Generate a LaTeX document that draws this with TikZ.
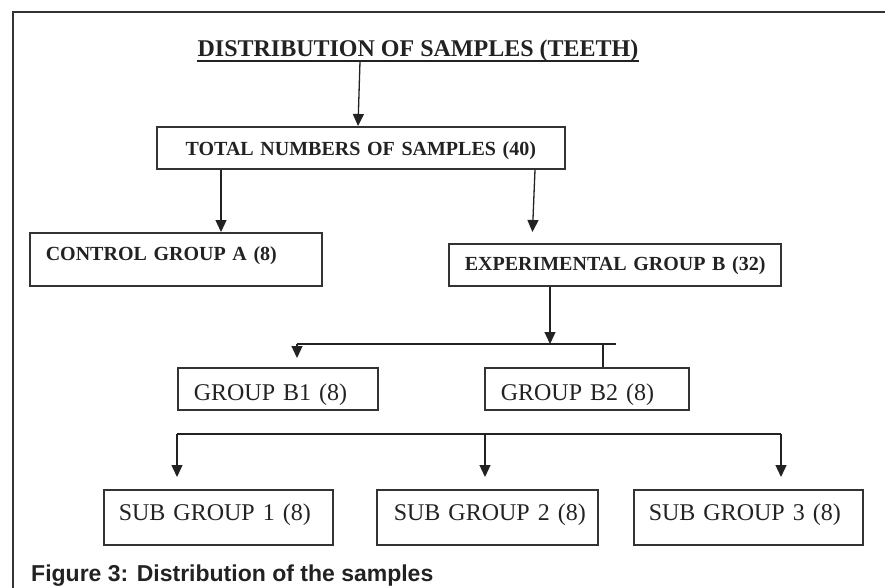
\documentclass[tikz,border=0pt]{standalone}
\usepackage{fontspec}
\setmainfont{Liberation Serif}
\newfontfamily\capfont{Liberation Sans}
\usetikzlibrary{arrows.meta,calc}
\definecolor{ink}{HTML}{222222}
\definecolor{edge}{HTML}{333333}
\begin{document}
\begin{tikzpicture}[x=1pt,y=1pt,
  boxbase/.style={draw=edge, line width=1.6pt, inner ysep=0pt, anchor=north west, align=left, text=ink},
  boldtxt/.style={font=\bfseries\fontsize{20}{24}\selectfont},
  plaintxt/.style={font=\fontsize{24}{28}\selectfont},
  arr/.style={draw=ink, line width=1.3pt, -{Triangle[width=11pt,length=12pt]}},
  conn/.style={draw=ink, line width=1.3pt}]
\useasboundingbox (0,0) rectangle (885,-588);
% frame
\draw[draw=edge, line width=1.5pt] (885,-12) -- (13,-12) -- (13,-588);
% title
\node[font=\bfseries\fontsize{24}{28}\selectfont, inner sep=0pt, text depth=4pt, anchor=base, text=ink] (title) at (418,-57) {DISTRIBUTION OF SAMPLES (TEETH)};
\draw[conn, line width=1.5pt] (title.south west) -- (title.south east);
% boxes
\node[boxbase, boldtxt, minimum width=408pt, minimum height=42pt, inner xsep=14pt, text width=380pt, align=center, text height=29pt, text depth=13pt] (total) at (156,-126) {TOTAL NUMBERS OF SAMPLES (40)};
\node[boxbase, boldtxt, minimum width=292pt, minimum height=53pt, inner xsep=16pt, text width=260pt, text height=28pt, text depth=25pt] (ctrl) at (29,-232) {\mbox{CONTROL GROUP A (8)}};
\node[boxbase, boldtxt, minimum width=332pt, minimum height=42pt, inner xsep=16pt, text width=300pt, text height=27pt, text depth=15pt] (exp) at (448,-243) {\mbox{EXPERIMENTAL GROUP B (32)}};
\node[boxbase, plaintxt, minimum width=200pt, minimum height=42pt, inner xsep=16pt, text width=168pt, text height=33pt, text depth=9pt] (b1) at (177,-367) {\mbox{GROUP B1 (8)}};
\node[boxbase, plaintxt, minimum width=204pt, minimum height=42pt, inner xsep=16pt, text width=172pt, text height=33pt, text depth=9pt] (b2) at (484,-367) {\mbox{GROUP B2 (8)}};
\node[boxbase, plaintxt, minimum width=229pt, minimum height=55pt, inner xsep=15pt, text width=199pt, text height=31pt, text depth=24pt] (sg1) at (103,-489) {\mbox{SUB GROUP 1 (8)}};
\node[boxbase, plaintxt, minimum width=221pt, minimum height=55pt, inner xsep=17pt, text width=187pt, text height=31pt, text depth=24pt] (sg2) at (376,-489) {\mbox{SUB GROUP 2 (8)}};
\node[boxbase, plaintxt, minimum width=229pt, minimum height=55pt, inner xsep=15pt, text width=199pt, text height=31pt, text depth=24pt] (sg3) at (633,-489) {\mbox{SUB GROUP 3 (8)}};
% connectors
\draw[arr] ($(title.south)+(-58,0)$) -- ($(total.north west)+(202,0)$);
\draw[arr] ($(total.south west)+(65,0)$) -- ($(ctrl.north west)+(192,0)$);
\draw[arr, shorten >=11pt] ($(total.south west)+(379,0)$) -- ($(exp.north west)+(84,0)$);
\coordinate (bj) at (550,-344);
\coordinate (bl) at (297,-344);
\coordinate (br) at (616,-344);
\coordinate (bv) at (603,-344);
\draw[arr] (exp.south -| bj) -- (bj);
\draw[conn] (bl) -- (br);
\draw[arr, shorten >=9pt] (bl) -- (bl |- b1.north);
\draw[conn] (bv) -- (bv |- b2.north);
\coordinate (s1) at (177,-434);
\coordinate (s2) at (485,-434);
\coordinate (s3) at (781,-434);
\draw[conn] (s1) -- (s3);
\draw[arr, shorten >=12pt] (s1) -- (s1 |- sg1.north);
\draw[arr, shorten >=12pt] (s2) -- (s2 |- sg2.north);
\draw[arr, shorten >=12pt] (s3) -- (s3 |- sg3.north);
% caption
\node[anchor=base west, inner sep=0pt, font=\capfont\bfseries\fontsize{23}{27}\selectfont, text=ink] (cap) at (31,-581) {Figure 3: Distribution of the samples};
\end{tikzpicture}
\end{document}
